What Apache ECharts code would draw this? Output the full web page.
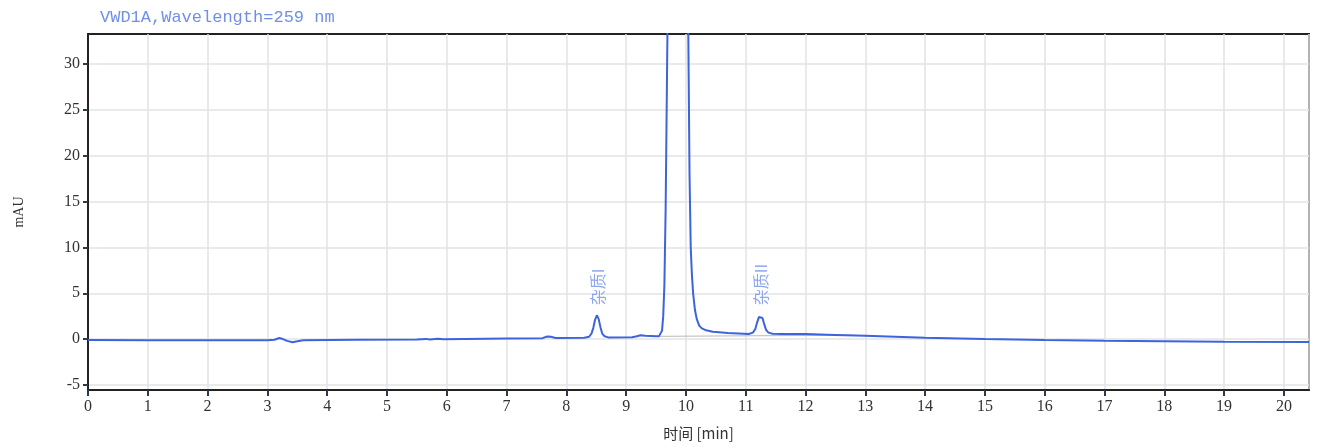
<!DOCTYPE html>
<html>
<head>
<meta charset="utf-8">
<script src="https://cdn.jsdelivr.net/npm/echarts@6/dist/echarts.min.js"></script>
<style>
html,body{margin:0;padding:0;background:#fff;}
#chart{width:1317px;height:448px;}
</style>
</head>
<body>
<div id="chart"></div>
<script>
// chromatogram trace [time min, signal mAU]
var trace = [
  [0, -0.1], [1, -0.12], [2, -0.12], [3.0, -0.12], [3.12, -0.08], [3.2, 0.12], [3.26, 0.0],
  [3.33, -0.2], [3.42, -0.35], [3.5, -0.25], [3.6, -0.12], [4.5, -0.08], [5.5, -0.05],
  [5.65, 0.02], [5.72, -0.05], [5.85, 0.03], [5.95, -0.03], [7.0, 0.05], [7.6, 0.1],
  [7.68, 0.28], [7.74, 0.25], [7.82, 0.12], [8.3, 0.15], [8.38, 0.25], [8.42, 0.6],
  [8.45, 1.2], [8.48, 2.1], [8.51, 2.6], [8.54, 2.2], [8.57, 1.3], [8.6, 0.6], [8.64, 0.3],
  [8.7, 0.18], [9.1, 0.2], [9.18, 0.3], [9.24, 0.42], [9.32, 0.35], [9.5, 0.3], [9.55, 0.32],
  [9.58, 0.4], [9.6, 0.9], [9.62, 2.5], [9.64, 6], [9.66, 14], [9.69, 33], [9.75, 120],
  [9.86, 260], [9.97, 120], [10.02, 50], [10.04, 33], [10.06, 18], [10.08, 10], [10.1, 7],
  [10.12, 5], [10.15, 3.2], [10.18, 2.2], [10.22, 1.5], [10.26, 1.2], [10.32, 1.0],
  [10.45, 0.8], [10.7, 0.65], [11.05, 0.55], [11.12, 0.7], [11.16, 1.1], [11.19, 1.8],
  [11.22, 2.4], [11.25, 2.6], [11.28, 2.3], [11.31, 1.6], [11.34, 1.0], [11.38, 0.7],
  [11.45, 0.58], [11.6, 0.55], [12.0, 0.55], [12.5, 0.45], [13.0, 0.35], [14.0, 0.15],
  [15.0, 0.0], [16.0, -0.1], [17.0, -0.18], [18.0, -0.25], [19.0, -0.3], [20.42, -0.32]
];
// integration baseline under main peak
var baseline = [[9.55, 0.3], [12.8, 0.42]];
// peak names
var peakNames = ['杂质I', '杂质II'];
var peakTimes = [8.52, 11.25];
var peakHeights = [2.6, 2.6];
var yTicks = [-5, 0, 5, 10, 15, 20, 25, 30];

var chart = echarts.init(document.getElementById('chart'));

var peakPts = [];
for (var i = 0; i < peakNames.length; i++) {
  peakPts.push({name: peakNames[i], value: [peakTimes[i], peakHeights[i]]});
}

var tickFont = {fontFamily: 'Liberation Serif', fontSize: 16, color: '#333'};

var option = {
  animation: false,
  title: {
    text: 'VWD1A,Wavelength=259 nm',
    left: 95, top: 4,
    textStyle: {fontFamily: 'Liberation Mono', fontSize: 17, fontWeight: 'normal', color: '#7090e8'}
  },
  grid: {
    left: 88, right: 8, top: 34, bottom: 58,
    show: true, borderColor: '#222', borderWidth: 2
  },
  xAxis: {
    type: 'value', min: 0, max: 20.42, interval: 1,
    name: '时间 [min]', nameLocation: 'middle', nameGap: 36,
    nameTextStyle: {fontFamily: 'Noto Sans CJK SC', fontSize: 15, color: '#333'},
    axisLine: {show: true, onZero: false, lineStyle: {color: '#222', width: 2}},
    axisTick: {show: true, length: 6, lineStyle: {color: '#2b3a4a', width: 2}},
    axisLabel: Object.assign({showMaxLabel: false, margin: 9}, tickFont),
    splitLine: {show: true, lineStyle: {color: '#e3e3e3', width: 1.5}}
  },
  yAxis: {
    type: 'value', min: -5.56, max: 33.3,
    name: 'mAU', nameLocation: 'middle', nameGap: 62, nameRotate: 90,
    nameTextStyle: {fontFamily: 'Liberation Serif', fontSize: 14, color: '#333'},
    axisLine: {show: true, lineStyle: {color: '#222', width: 2}},
    axisTick: {show: true, length: 5, customValues: yTicks, lineStyle: {color: '#2b3a4a', width: 2}},
    axisLabel: Object.assign({customValues: yTicks, margin: 8}, tickFont),
    splitLine: {show: true, lineStyle: {color: '#e3e3e3', width: 1.5}}
  },
  series: [
    {
      type: 'line', data: baseline, symbol: 'none', silent: true,
      lineStyle: {color: '#b8b8b8', width: 1}
    },
    {
      type: 'line', data: trace, symbol: 'none', smooth: false,
      clip: true,
      lineStyle: {color: '#3d63dd', width: 2}
    },
    {
      type: 'scatter', data: peakPts, symbolSize: 0,
      label: {
        show: true, formatter: '{b}', position: 'top', rotate: 90,
        align: 'left', verticalAlign: 'middle', distance: 10,
        fontFamily: 'Noto Sans CJK SC', fontSize: 16, color: '#7090e8'
      }
    }
  ]
};

chart.setOption(option);
</script>
</body>
</html>
